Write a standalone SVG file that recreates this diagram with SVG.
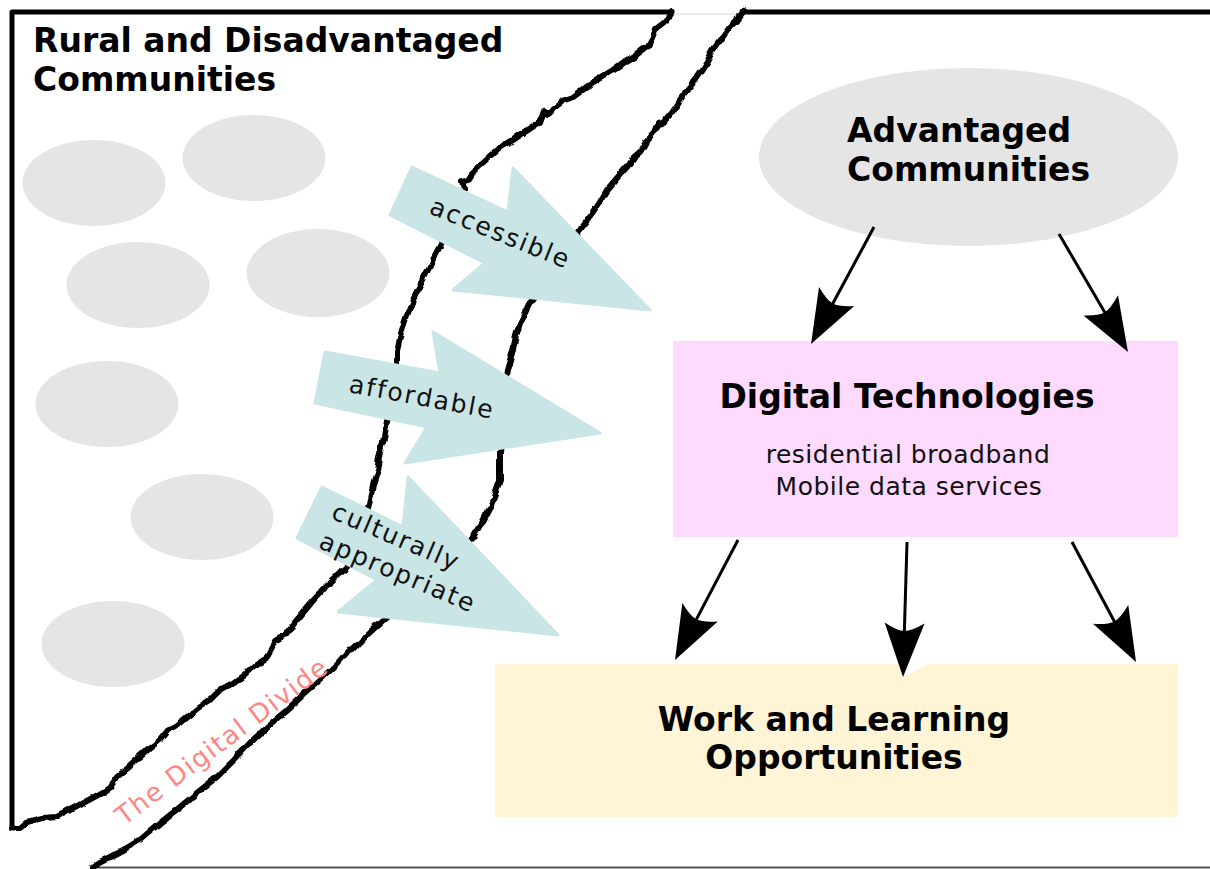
<svg xmlns="http://www.w3.org/2000/svg" width="1210" height="869" viewBox="0 0 1210 869">
  <defs>
    <style>
      .blob { fill: #e5e5e5; }
      .edge { fill: none; stroke: #000; stroke-width: 5; stroke-linejoin: round; stroke-linecap: round; }
      .rough { fill: none; stroke: #000; stroke-width: 6; stroke-linejoin: round; stroke-linecap: round; filter: url(#jag); }
      .big { fill: #c9e5e5; stroke: #c9e5e5; stroke-width: 3; stroke-linejoin: round; }
      .lbl { font-family: "DejaVu Sans", "Liberation Sans", sans-serif; font-size: 25px; letter-spacing: 2px; fill: #111; }
      .title { font-family: "DejaVu Sans", "Liberation Sans", sans-serif; font-size: 33px; font-weight: bold; fill: #000; }
      .sub { font-family: "DejaVu Sans", "Liberation Sans", sans-serif; font-size: 25px; letter-spacing: 0.5px; fill: #111; }
      .conn { fill: none; stroke: #000; stroke-width: 3; marker-end: url(#head); }
    </style>
    <!-- hand-drawn wobble for the edges of the divide -->
    <filter id="jag" filterUnits="userSpaceOnUse" x="0" y="0" width="1210" height="869">
      <feTurbulence type="fractalNoise" baseFrequency="0.07" numOctaves="2" seed="3" result="n"/>
      <feDisplacementMap in="SourceGraphic" in2="n" scale="6" xChannelSelector="R" yChannelSelector="G"/>
    </filter>
    <marker id="head" markerUnits="userSpaceOnUse" viewBox="-58 -24 62 48" markerWidth="62" markerHeight="48" refX="-40" refY="0" orient="auto" overflow="visible">
      <path d="M0,0 L-54,-20 Q-46,-7 -46,0 Q-46,7 -54,20 Z" fill="#000"/>
    </marker>
  </defs>

  <rect width="1210" height="869" fill="#fff"/>

  <!-- region borders and the two rough edges of the divide -->
  <g id="divide">
    <line x1="672" y1="14" x2="743" y2="14" stroke="#d4d4d4" stroke-width="1"/>
    <line x1="93" y1="867.5" x2="1210" y2="867.5" stroke="#555" stroke-width="2"/>
    <path class="edge" d="M14,828 H12 V12 H672"/>
    <path class="edge" d="M1210,12 H743"/>
    <path class="rough" d="M672,12 L664,22 656,28 652,38 648,46 636,55 624,62 613,70 600,78 588,86 573,97 562,101 553,108 548,114 544,111 540,122 528,130 513,140 500,148 490,157 480,166 472,174 468,180 462,182 464,190 455,205 448,222 440,247 432,262 424,278 413,300 406,318 402,330 400,337 397,352 397,363 395,380 392,400 387,420 384,438 380,457 378,470 373,485 370,500 364,520 358,540 352,556 347,567 336,578 323,590 310,604 297,620 284,636 276,641 271,650 267,657 256,664 245,674 233,683 220,690 210,700 198,708 187,717 176,726 168,730 160,740 150,748 140,757 128,768 118,776 110,787 98,795 83,803 70,810 57,817 42,818 27,822 20,828 12,828"/>
    <path class="rough" d="M743,12 L737,20 730,27 722,38 713,50 707,62 700,73 690,87 680,100 672,112 663,123 658,124 655,131 647,140 643,147 640,152 633,158 627,167 617,178 607,190 600,202 593,213 586,222 580,230 565,250 550,275 538,292 530,303 525,313 520,323 516,336 513,350 510,360 507,370 504,400 502,430 500,453 500,467 500,480 495,494 490,507 482,522 473,537 450,560 425,585 400,605 380,623 368,634 353,650 348,651 338,663 320,680 304,694 287,710 268,726 250,743 234,760 217,777 198,792 180,807 160,823 140,840 125,849 110,857 100,862 93,867"/>
    <text x="0" y="0" transform="translate(124,826) rotate(-37)" font-family="DejaVu Sans, Liberation Sans, sans-serif" font-size="26" letter-spacing="1.5" fill="#ff8585">The Digital Divide</text>
  </g>

  <g id="rural">
    <ellipse class="blob" cx="94" cy="183" rx="71.5" ry="43"/>
    <ellipse class="blob" cx="254" cy="158" rx="71.5" ry="43"/>
    <ellipse class="blob" cx="138" cy="285" rx="71.5" ry="43"/>
    <ellipse class="blob" cx="318" cy="273" rx="71.5" ry="44"/>
    <ellipse class="blob" cx="107" cy="404" rx="71.5" ry="43"/>
    <ellipse class="blob" cx="202" cy="517" rx="71.5" ry="43"/>
    <ellipse class="blob" cx="113" cy="644" rx="71.5" ry="43"/>
    <text class="title" x="33" y="52">Rural and Disadvantaged</text>
    <text class="title" x="33" y="91">Communities</text>
  </g>

  <!-- wide arrows crossing the divide -->
  <g id="accessible">
    <polygon class="big" points="412,167 508,212 513,168 650,310 453,290 485,263 390,215"/>
    <text class="lbl" transform="translate(428,213) rotate(22)">accessible</text>
  </g>
  <g id="affordable">
    <polygon class="big" points="325,352 440,373 433,332 600,433 405,463 427,427 315,403"/>
    <text class="lbl" transform="translate(348,392) rotate(10.5)">affordable</text>
  </g>
  <g id="appropriate">
    <polygon class="big" points="322,487 403,527 408,477 558,635 338,612 377,580 297,538"/>
    <g transform="translate(330,518) rotate(23)">
      <text class="lbl" x="0" y="0">culturally</text>
      <text class="lbl" x="0" y="32">appropriate</text>
    </g>
  </g>

  <g id="advantaged">
    <ellipse class="blob" cx="968.5" cy="157" rx="209.5" ry="89"/>
    <text class="title" x="847" y="142">Advantaged</text>
    <text class="title" x="847" y="181">Communities</text>
  </g>

  <g id="technologies">
    <rect x="673" y="341" width="505" height="196" fill="#ffdaff"/>
    <text class="title" x="907" y="408" text-anchor="middle">Digital Technologies</text>
    <text class="sub" x="908" y="463" text-anchor="middle">residential broadband</text>
    <text class="sub" x="909" y="495" text-anchor="middle">Mobile data services</text>
  </g>

  <g id="opportunities">
    <polygon points="495,664 900,664 903,677 928,664 1178,664 1178,817 495,817" fill="#fff4d5"/>
    <text class="title" x="834" y="731" text-anchor="middle">Work and Learning</text>
    <text class="title" x="834" y="769" text-anchor="middle">Opportunities</text>
  </g>

  <g id="connectors">
    <line class="conn" x1="874" y1="227" x2="830" y2="308.8"/>
    <line class="conn" x1="1059" y1="234" x2="1107.8" y2="317.5"/>
    <line class="conn" x1="738" y1="540" x2="693.6" y2="624.6"/>
    <line class="conn" x1="907" y1="542" x2="904.2" y2="637"/>
    <line class="conn" x1="1072" y1="542" x2="1117.2" y2="626.7"/>
  </g>
</svg>
